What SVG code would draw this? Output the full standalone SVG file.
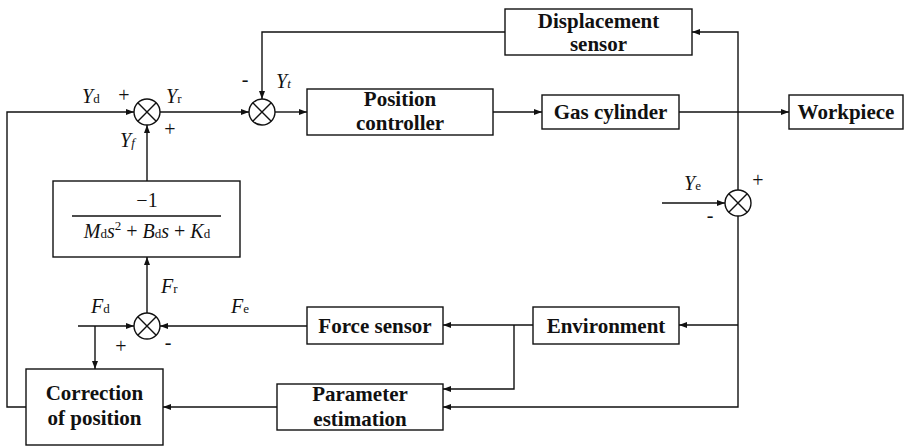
<svg xmlns="http://www.w3.org/2000/svg" width="906" height="446" viewBox="0 0 906 446">
  <style>
    text { font-family: "Liberation Serif", "Times New Roman", "DejaVu Serif", serif; fill: #111; }
    .lbl { font-weight: bold; font-size: 21px; text-anchor: middle; }
    .var { font-style: italic; font-size: 20px; }
    .sub { font-style: normal; font-size: 13px; }
    .subi { font-style: italic; font-size: 13px; }
    .sign { font-size: 20px; text-anchor: middle; }
    .math { font-size: 20px; text-anchor: middle; }
    .it { font-style: italic; }
    .sm { font-size: 13px; }
    .box { fill: #fff; stroke: #111; stroke-width: 1.4; }
    .wire { fill: none; stroke: #111; stroke-width: 1.4; }
    .ring { fill: #fff; stroke: #111; stroke-width: 1.4; }
  </style>
  <defs>
    <marker id="arr" markerWidth="8" markerHeight="6" refX="8" refY="3" orient="auto" markerUnits="userSpaceOnUse">
      <path d="M0,0 L8,3 L0,6 Z" fill="#111"/>
    </marker>
  </defs>
  <rect width="906" height="446" fill="#fff"/>

  <!-- connectors -->
  <g id="connectors">
    <path class="wire" d="M26,407 H7 V112 H134" marker-end="url(#arr)"/>
    <path class="wire" d="M160,112 H249" marker-end="url(#arr)"/>
    <path class="wire" d="M275,112 H307" marker-end="url(#arr)"/>
    <path class="wire" d="M493,112 H542" marker-end="url(#arr)"/>
    <path class="wire" d="M679,112 H789" marker-end="url(#arr)"/>
    <path class="wire" d="M738,190 V32 H692" marker-end="url(#arr)"/>
    <path class="wire" d="M505,32 H262 V99" marker-end="url(#arr)"/>
    <path class="wire" d="M738,216 V407 H443" marker-end="url(#arr)"/>
    <path class="wire" d="M738,325 H679" marker-end="url(#arr)"/>
    <path class="wire" d="M662,203 H725" marker-end="url(#arr)"/>
    <path class="wire" d="M533,325 H443" marker-end="url(#arr)"/>
    <path class="wire" d="M514,325 V389 H443" marker-end="url(#arr)"/>
    <path class="wire" d="M307,326 H160" marker-end="url(#arr)"/>
    <path class="wire" d="M78,326 H134" marker-end="url(#arr)"/>
    <path class="wire" d="M95,326 V369" marker-end="url(#arr)"/>
    <path class="wire" d="M147,313 V257" marker-end="url(#arr)"/>
    <path class="wire" d="M147,181 V125" marker-end="url(#arr)"/>
    <path class="wire" d="M277,407 H163" marker-end="url(#arr)"/>
  </g>

  <!-- summing junctions -->
  <g id="sum-yr">
    <circle class="ring" cx="147" cy="112" r="13"/>
    <path class="wire" d="M137.8,102.8 L156.2,121.2 M156.2,102.8 L137.8,121.2"/>
  </g>
  <g id="sum-yt">
    <circle class="ring" cx="262" cy="112" r="13"/>
    <path class="wire" d="M252.8,102.8 L271.2,121.2 M271.2,102.8 L252.8,121.2"/>
  </g>
  <g id="sum-ye">
    <circle class="ring" cx="738" cy="203" r="13"/>
    <path class="wire" d="M728.8,193.8 L747.2,212.2 M747.2,193.8 L728.8,212.2"/>
  </g>
  <g id="sum-fr">
    <circle class="ring" cx="147" cy="326" r="13"/>
    <path class="wire" d="M137.8,316.8 L156.2,335.2 M156.2,316.8 L137.8,335.2"/>
  </g>

  <!-- blocks -->
  <g id="displacement-sensor">
    <rect class="box" x="505" y="9" width="187" height="46"/>
    <text class="lbl" x="598.5" y="28" font-family="Liberation Serif, serif">Displacement</text>
    <text class="lbl" x="598.5" y="51" font-family="Liberation Serif, serif">sensor</text>
  </g>
  <g id="position-controller">
    <rect class="box" x="307" y="89" width="186" height="46"/>
    <text class="lbl" x="400" y="106" font-family="Liberation Serif, serif">Position</text>
    <text class="lbl" x="400" y="130" font-family="Liberation Serif, serif">controller</text>
  </g>
  <g id="gas-cylinder">
    <rect class="box" x="542" y="95" width="137" height="34"/>
    <text class="lbl" x="610.5" y="119" font-family="Liberation Serif, serif">Gas cylinder</text>
  </g>
  <g id="workpiece">
    <rect class="box" x="789" y="95" width="114" height="34"/>
    <text class="lbl" x="846" y="119" font-family="Liberation Serif, serif">Workpiece</text>
  </g>
  <g id="impedance-filter">
    <rect class="box" x="53" y="181" width="187" height="76"/>
    <text class="math" x="147" y="207" font-family="Liberation Serif, serif">−1</text>
    <line x1="72" y1="216" x2="221" y2="216" stroke="#111" stroke-width="1.3"/>
    <text class="math" x="147" y="238" font-family="Liberation Serif, serif"><tspan class="it">M</tspan><tspan class="sm">d</tspan><tspan class="it">s</tspan><tspan class="sm" dy="-8">2</tspan><tspan dy="8"> + </tspan><tspan class="it">B</tspan><tspan class="sm">d</tspan><tspan class="it">s</tspan> + <tspan class="it">K</tspan><tspan class="sm">d</tspan></text>
  </g>
  <g id="force-sensor">
    <rect class="box" x="307" y="307" width="136" height="37"/>
    <text class="lbl" x="375" y="333" font-family="Liberation Serif, serif">Force sensor</text>
  </g>
  <g id="environment">
    <rect class="box" x="533" y="307" width="146" height="37"/>
    <text class="lbl" x="606" y="333" font-family="Liberation Serif, serif">Environment</text>
  </g>
  <g id="parameter-estimation">
    <rect class="box" x="277" y="384" width="166" height="46"/>
    <text class="lbl" x="360" y="401" font-family="Liberation Serif, serif">Parameter</text>
    <text class="lbl" x="360" y="426" font-family="Liberation Serif, serif">estimation</text>
  </g>
  <g id="correction-of-position">
    <rect class="box" x="26" y="369" width="137" height="76"/>
    <text class="lbl" x="94.5" y="400" font-family="Liberation Serif, serif">Correction</text>
    <text class="lbl" x="94.5" y="425" font-family="Liberation Serif, serif">of position</text>
  </g>

  <!-- signal labels -->
  <g id="labels">
    <text class="var" x="82" y="103">Y<tspan class="sub">d</tspan></text>
    <text class="var" x="166" y="103">Y<tspan class="sub">r</tspan></text>
    <text class="var" x="120" y="147">Y<tspan class="subi">f</tspan></text>
    <text class="var" x="276" y="88">Y<tspan class="subi">t</tspan></text>
    <text class="var" x="684" y="190">Y<tspan class="sub">e</tspan></text>
    <text class="var" x="91" y="313">F<tspan class="sub">d</tspan></text>
    <text class="var" x="161" y="293">F<tspan class="sub">r</tspan></text>
    <text class="var" x="231" y="313">F<tspan class="sub">e</tspan></text>
    <text class="sign" x="124" y="102">+</text>
    <text class="sign" x="170" y="136">+</text>
    <text class="sign" x="245" y="86">-</text>
    <text class="sign" x="758" y="187">+</text>
    <text class="sign" x="710" y="222">-</text>
    <text class="sign" x="121" y="353">+</text>
    <text class="sign" x="168" y="349">-</text>
  </g>
</svg>
